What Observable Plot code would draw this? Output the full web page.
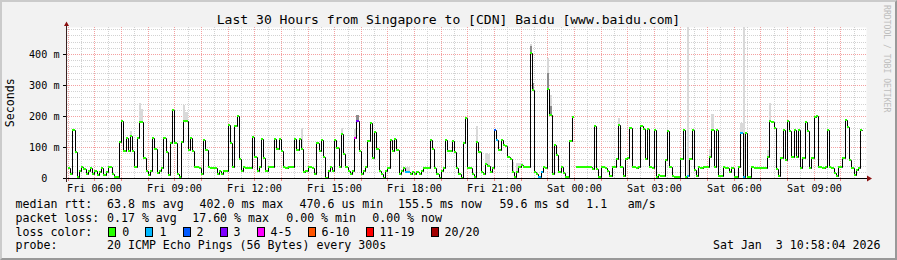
<!DOCTYPE html>
<html>
<head>
<meta charset="utf-8">
<script src="https://cdn.jsdelivr.net/npm/d3@7"></script>
<script src="https://cdn.jsdelivr.net/npm/@observablehq/plot@0.6"></script>
<style>
html,body{margin:0;padding:0;background:#f2f2f2;}
#wrap{position:relative;width:897px;height:260px;overflow:hidden;background:#f2f2f2;font-family:"DejaVu Sans Mono",monospace;color:#000;}
#chart{position:absolute;left:0;top:0;}
.txt{position:absolute;white-space:pre;line-height:1;}
.box{position:absolute;width:8px;height:10px;box-sizing:border-box;border:1px solid #000;}
#frame{position:absolute;left:0;top:0;width:897px;height:260px;box-sizing:border-box;border-style:solid;border-width:2px;border-color:#cbcbcb #999 #999 #cbcbcb;pointer-events:none;}
</style>
</head>
<body>
<div id="wrap"><div id="chart"></div><div id="frame"></div></div>
<script>
// ---------- data ----------
const titleText = "Last 30 Hours from Singapore to [CDN] Baidu [www.baidu.com]";
const yAxisTitle = "Seconds";
const rangeStart = "2026-01-02T04:58:04Z";
const rangeEnd = "2026-01-03T10:58:04Z";
const firstSample = "2026-01-02T05:00:00Z";
const stepSeconds = 300;

// median RTT (ms), one value per 5-minute step (null = no data)
const medianMs = [
  33, 14, 155, 84, 2, 23, 35, 30, 12, 23,
  32, 13, 21, 11, 20, 32, 11, 19, 35, 35,
  13, 2, 2, 117, 184, 88, 128, 88, 134, 88,
  35, 130, 182, 182, 63, 24, 10, 23, 130, 92,
  17, 23, 33, 130, 83, 10, 114, 219, 114, 12,
  2, 115, 185, 185, 90, 129, 87, 37, 37, 33,
  12, 123, 90, 37, 33, 33, 33, 12, 24, 13,
  21, 21, 172, 112, 34, 168, 200, 61, 24, 35,
  33, 33, 33, 133, 69, 24, 35, 126, 65, 24,
  35, 35, 35, 127, 94, 126, 87, 35, 33, 35,
  35, 35, 126, 90, 126, 94, 20, 24, 35, 35,
  32, 13, 112, 87, 123, 69, 1, 23, 35, 23,
  121, 98, 35, 141, 76, 35, 24, 14, 24, 129,
  185, 87, 14, 24, 34, 120, 178, 63, 149, 95,
  24, 14, 1, 21, 33, 123, 87, 126, 90, 14,
  23, 33, 20, 20, 14, 20, 14, 20, 14, 23,
  33, 33, 33, 123, 94, 33, 14, 1, 23, 33,
  123, 87, 87, 119, 85, 31, 14, 1, 112, 193,
  33, 33, 13, 4, 117, 85, 20, 14, 45, 40,
  20, 33, 155, 123, 90, 123, 105, 103, 69, 60,
  20, 4, 20, 37, 42, 37, 37, 37, 402, 284,
  20, 13, 2, 20, 37, 33, 286, 203, 13, 105,
  74, 20, 37, 15, 2, 2, 119, 198, null, 37,
  37, 37, 37, 37, 37, 37, 29, 168, 29, 4,
  37, 37, 33, 24, 6, 37, 37, 62, 171, 37,
  6, 62, 63, 162, 37, 37, 31, 37, 169, 157,
  62, 158, 37, 31, 155, 4, 10, 6, 6, 58,
  153, 37, 6, 4, 4, 4, 62, 155, 4, 6,
  62, 155, 26, 6, 37, 33, 37, 37, 37, 69,
  155, 37, 155, 6, 6, 37, 31, 31, 20, 31,
  4, 4, 37, 144, 4, 144, 4, 4, 37, 33,
  33, 33, 33, 33, 33, 69, 185, 182, 160, 28,
  6, 63, 155, 58, 185, 153, 69, 155, 69, 155,
  31, 63, 180, 152, 31, 63, 198, 201, 37, 37,
  33, 37, 155, 37, 31, 15, 6, 37, 37, 63,
  187, 166, 58, 33, 10, 26, 33, 155
];

// steps with packet loss: step index and loss band
const lossStep = [129, 130, 152, 153, 192, 193, 212, 213, 279, 303, 304];
const lossStepBand = ["4-5", "3", "1", "1", "2", "1", "1", "1", "1", "1", "1"];

// visible smoke (spread of pings): step index and top value (ms)
const smokeStep = [28, 32, 33, 52, 53, 105, 123, 129, 130, 152, 153, 184, 188, 189, 198, 199, 200, 202, 203, 204, 208, 209, 216, 217, 248, 279, 289, 290, 303, 304, 315, 316];
const smokeTopMs = [152, 241, 222, 235, 214, 160, 162, 158, 203, 37, 37, 168, 80, 78, 66, 60, 53, 47, 47, 47, 432, 305, 386, 268, 192, 490, 95, 206, 176, 490, 90, 241];
// darker smoke bands
const darkStep = [130, 208, 209, 216, 217];
const darkLoMs = [186, 404, 285, 290, 205];
const darkHiMs = [203, 426, 305, 340, 232];

// loss colour legend
const lossBands = ["0", "1", "2", "3", "4-5", "6-10", "11-19", "20/20"];
const lossColors = ["#26ff00", "#00b8ff", "#0059ff", "#7e00ff", "#ff00ff", "#ff5500", "#ff0000", "#a10000"];

// axes
const yMaxMs = 487;
const yTickValues = [0, 100, 200, 300, 400];
const yTickLabels = ["0", "100 m", "200 m", "300 m", "400 m"];
const yMinorStep = 20;
const xTickTimes = ["2026-01-02T06:00Z", "2026-01-02T09:00Z", "2026-01-02T12:00Z", "2026-01-02T15:00Z", "2026-01-02T18:00Z", "2026-01-02T21:00Z", "2026-01-03T00:00Z", "2026-01-03T03:00Z", "2026-01-03T06:00Z", "2026-01-03T09:00Z"];
const xTickLabels = ["Fri 06:00", "Fri 09:00", "Fri 12:00", "Fri 15:00", "Fri 18:00", "Fri 21:00", "Sat 00:00", "Sat 03:00", "Sat 06:00", "Sat 09:00"];

// legend rows
const rttLabel = "median rtt:";
const rttStats = ["63.8 ms avg", "402.0 ms max", "470.6 us min", "155.5 ms now", "59.6 ms sd", "1.1", "am/s"];
const lossLabel = "packet loss:";
const lossStats = ["0.17 % avg", "17.60 % max", "0.00 % min", "0.00 % now"];
const colorLabel = "loss color:";
const probeLabel = "probe:";
const probeText = "20 ICMP Echo Pings (56 Bytes) every 300s";
const stampText = "Sat Jan  3 10:58:04 2026";
const watermark = "RRDTOOL / TOBI OETIKER";

// ---------- build ----------
const dStart = new Date(rangeStart), dEnd = new Date(rangeEnd);
const t0 = Date.parse(firstSample), STEP = stepSeconds * 1000;
const bandColor = new Map(lossBands.map((b, i) => [b, lossColors[i]]));
const lossMap = new Map(lossStep.map((k, i) => [k, bandColor.get(lossStepBand[i])]));
const pts = medianMs.map((v, i) => ({t: new Date(t0 + i * STEP), t2: new Date(t0 + (i + 1) * STEP), v, c: lossMap.get(i) || lossColors[0]}));
const lineData = pts.concat([{t: pts[pts.length - 1].t2, v: pts[pts.length - 1].v}]);
const smoke = smokeStep.map((k, i) => ({t: pts[k].t, t2: pts[k].t2, lo: pts[k].v ?? 0, hi: Math.min(smokeTopMs[i], yMaxMs)}));
const dark = darkStep.map((k, i) => ({t: pts[k].t, t2: pts[k].t2, lo: darkLoMs[i], hi: darkHiMs[i]}));

const yMinor = d3.range(yMinorStep, yMaxMs, yMinorStep).filter(v => v % 100 !== 0);
const yMajor = yTickValues.filter(v => v > 0);
const hours = d3.utcHour.range(dStart, dEnd);
const halfHours = d3.utcMinute.every(30).range(dStart, dEnd).filter(d => d.getUTCMinutes() === 30);
const xLabelMap = new Map(xTickTimes.map((s, i) => [Date.parse(s), xTickLabels[i]]));
const yLabelMap = new Map(yTickValues.map((v, i) => [v, yTickLabels[i]]));

const plot = Plot.plot({
  width: 897, height: 200,
  marginLeft: 67, marginRight: 31, marginTop: 27, marginBottom: 22,
  x: {type: "utc", domain: [dStart, dEnd], round: true, axis: null},
  y: {domain: [0, yMaxMs], round: true, axis: null},
  color: {type: "identity"},
  style: {background: "transparent", fontFamily: "'DejaVu Sans Mono', monospace", fontSize: "10.15px", color: "#000", overflow: "visible"},
  marks: [
    Plot.frame({fill: "#ffffff"}),
    Plot.ruleY(yMinor, {stroke: "#d2d2d2", strokeDasharray: "1,1"}),
    Plot.ruleX(halfHours, {stroke: "#d2d2d2", strokeDasharray: "1,1"}),
    Plot.ruleY(yMajor, {stroke: "#f4a0a0", strokeDasharray: "1,1"}),
    Plot.ruleX(hours, {stroke: "#f4a0a0", strokeDasharray: "1,1"}),
    Plot.rectY(smoke, {x1: "t", x2: "t2", y1: "lo", y2: "hi", fill: "#d9d9d9"}),
    Plot.rectY(dark, {x1: "t", x2: "t2", y1: "lo", y2: "hi", fill: "#8c8c8c"}),
    Plot.line(lineData, {x: "t", y: "v", curve: "step-after", stroke: "#000", strokeWidth: 1}),
    Plot.ruleY(pts.filter(d => d.v != null), {y: "v", x1: "t", x2: "t2", stroke: "c", strokeWidth: 2, dy: -0.5}),
    Plot.axisX(xTickTimes.map(s => new Date(s)), {tickSize: 0, tickPadding: 6, fontSize: 10.15, tickFormat: d => xLabelMap.get(+d), label: null}),
    Plot.axisY(yTickValues, {tickSize: 0, tickPadding: 8, fontSize: 10.15, tickFormat: d => {const s = yLabelMap.get(d); return s.includes(" ") ? s : s + "\u00a0\u00a0";}, label: null})
  ]
});
document.getElementById("chart").appendChild(plot);

// axis lines, ticks and arrows drawn with the plot's own scales
const sx = plot.scale("x"), sy = plot.scale("y");
const svg = d3.select(plot);
const X0 = sx.apply(dStart), X1 = sx.apply(dEnd), Y0 = sy.apply(0), YT = sy.apply(yMaxMs);
const g = svg.append("g");
hours.forEach(h => { const x = Math.round(sx.apply(h)) + 0.5; g.append("line").attr("x1", x).attr("x2", x).attr("y1", Y0 + 1).attr("y2", Y0 + 3).attr("stroke", "#f08080"); });
yTickValues.forEach(v => { const y = Math.round(sy.apply(v)) + 0.5; g.append("line").attr("x1", X0 - 4).attr("x2", X0).attr("y1", y).attr("y2", y).attr("stroke", "#000"); });
g.append("line").attr("x1", X0 - 4).attr("x2", X1 + 1).attr("y1", Y0 + 0.5).attr("y2", Y0 + 0.5).attr("stroke", "#000");
g.append("line").attr("x1", X0 - 0.5).attr("x2", X0 - 0.5).attr("y1", Y0 + 4).attr("y2", YT - 1).attr("stroke", "#3a2020");
g.append("path").attr("d", `M${X1 + 1},${Y0 - 2.5}L${X1 + 6},${Y0 + 0.5}L${X1 + 1},${Y0 + 3.5}Z`).attr("fill", "#8b1010");
g.append("path").attr("d", `M${X0 - 3},${YT - 1}L${X0 - 0.5},${YT - 5.5}L${X0 + 2},${YT - 1}Z`).attr("fill", "#8b1010");

// ---------- html text ----------
const wrap = document.getElementById("wrap");
function addText(str, x, base, size, align, color) {
  const el = document.createElement("div");
  el.className = "txt";
  el.textContent = str;
  el.style.fontSize = size + "px";
  el.style.top = (base - 0.846 * size) + "px";
  if (align === "right") el.style.right = (897 - x) + "px"; else el.style.left = x + "px";
  if (color) el.style.color = color;
  wrap.insertBefore(el, document.getElementById("frame"));
  return el;
}
const F = 11.6;
// title
const t = addText(titleText, 0, 24, 13.05);
t.style.left = "0px"; t.style.width = "897px"; t.style.textAlign = "center";
// y axis title
const yt = addText(yAxisTitle, 0, 0, F);
yt.style.left = (11 - 50) + "px"; yt.style.width = "100px"; yt.style.textAlign = "center";
yt.style.top = (103 - F / 2) + "px"; yt.style.height = F + "px"; yt.style.transform = "rotate(-90deg)";
// watermark
const wm = addText(watermark, 0, 0, 8.1, null, "#bdbdbd");
wm.style.width = "120px"; wm.style.height = "8.1px"; wm.style.left = (887 - 60) + "px"; wm.style.top = (5 + 60 - 4) + "px";
wm.style.transform = "rotate(90deg)";

// legend
const xs1 = [107, 199.5, 299.5, 398, 499.5, 586.2, 627.8];
addText(rttLabel, 15.5, 208.5, F);
rttStats.forEach((s, i) => addText(s, xs1[i], 208.5, F));
const xs2 = [107, 192.2, 286.2, 372.2];
addText(lossLabel, 15.5, 222.5, F);
lossStats.forEach((s, i) => addText(s, xs2[i], 222.5, F));
addText(colorLabel, 15.5, 236.5, F);
const xs3 = [122.2, 159.4, 196.5, 233.5, 270.5, 321.5, 379.5, 444.5];
lossBands.forEach((b, i) => {
  addText(b, xs3[i], 236.5, F);
  const bx = document.createElement("div");
  bx.className = "box";
  bx.style.left = Math.round(xs3[i] - 14) + "px";
  bx.style.top = "227px";
  bx.style.background = lossColors[i];
  wrap.insertBefore(bx, document.getElementById("frame"));
});
addText(probeLabel, 15.5, 250.3, F);
addText(probeText, 107, 250.3, F);
addText(stampText, 880.5, 250.3, F, "right");
</script>
</body>
</html>
